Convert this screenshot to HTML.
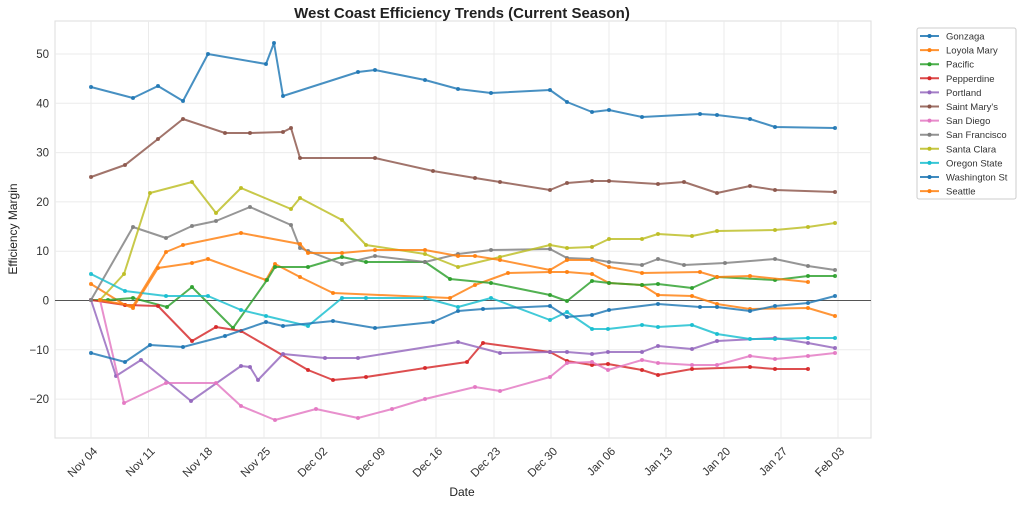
<!DOCTYPE html><html><head><meta charset="utf-8"><style>body{margin:0;background:#fff}svg{display:block;font-family:"Liberation Sans",sans-serif}</style></head><body>
<svg id="s" width="1024" height="506" viewBox="0 0 1024 506">
<rect x="0" y="0" width="1024" height="506" fill="#fff"/>
<rect x="55" y="21" width="816" height="417" fill="#fff" stroke="#ddd" stroke-width="1"/>
<g id="grid" stroke="#ebebeb" stroke-width="1"></g>
<line x1="55" y1="300.5" x2="871" y2="300.5" stroke="#555" stroke-width="1"/>
<g id="ser" fill="none" stroke-width="2" stroke-linejoin="round"></g>
<g id="lab" font-size="11.5" fill="#333"></g>
<text x="462" y="18" font-size="15" font-weight="bold" text-anchor="middle" fill="#222">West Coast Efficiency Trends (Current Season)</text>
<text x="462" y="496" font-size="12" text-anchor="middle" fill="#222">Date</text>
<text transform="translate(17,229) rotate(-90)" font-size="12" text-anchor="middle" fill="#222">Efficiency Margin</text>
<rect x="917" y="28" width="99" height="171" fill="#fff" stroke="#ccc" rx="2"/>
<g id="leg" font-size="9.5" fill="#333"></g>
</svg>
<script>
var NS="http://www.w3.org/2000/svg";function el(p,t,a,tx){var e=document.createElementNS(NS,t);for(var k in a)e.setAttribute(k,a[k]);if(tx)e.textContent=tx;document.getElementById(p).appendChild(e);return e;}
var xt=[91,148.5,206,264,321,379,436,494,551,609,666,724,781,838],xl=["Nov 04","Nov 11","Nov 18","Nov 25","Dec 02","Dec 09","Dec 16","Dec 23","Dec 30","Jan 06","Jan 13","Jan 20","Jan 27","Feb 03"];
xt.forEach(function(x,i){el("grid","line",{x1:x,y1:21,x2:x,y2:438});el("lab","text",{transform:"translate("+(x+7)+",452) rotate(-45)","text-anchor":"end"},xl[i]);});
[50,40,30,20,10,0,-10,-20].forEach(function(v){var y=300.5-4.93*v;el("grid","line",{x1:55,y1:y,x2:871,y2:y});el("lab","text",{x:49,y:y+4,"text-anchor":"end"},v==0?"0":(v<0?"\u2212"+(-v):v));});
var S=[
["Gonzaga","#1f77b4","91,87 133,98 158,86 183,101 208,54 266,64 274,43 283,96 358,72 375,70 425,80 458,89 491,93 550,90 567,102 592,112 609,110 642,117 700,114 717,115 750,119 775,127 835,128"],
["Loyola Mary","#ff7f0e","91,284 125,305 133,308 158,268 192,263 208,259 266,280 275,264 300,277 333,293 450,298 475,285 508,273 550,272 567,272 592,274 609,283 642,285 658,295 692,296 717,304 750,309 808,308 835,316"],
["Pacific","#2ca02c","91,300 108,300 133,298 167,307 192,287 233,328 267,280 275,267 308,267 342,257 366,262 425,262 450,279 491,283 550,295 567,301 592,281 609,283 642,285 658,284 692,288 717,277 775,280 808,276 835,276"],
["Pepperdine","#d62728","91,300 125,305 158,306 192,341 216,327 241,331 308,370 333,380 366,377 425,368 467,362 483,343 550,352 567,361 592,365 608,364 642,370 658,375 692,369 750,367 775,369 808,369"],
["Portland","#9467bd","91,300 116,376 141,360 191,401 241,366 250,367 258,380 283,354 325,358 358,358 458,342 500,353 550,352 567,352 592,354 608,352 642,352 658,346 692,349 717,341 775,338 808,343 835,348"],
["Saint Mary's","#8c564b","91,177 125,165 158,139 183,119 225,133 250,133 283,132 291,128 300,158 375,158 433,171 475,178 500,182 550,190 567,183 592,181 609,181 658,184 684,182 717,193 750,186 775,190 835,192"],
["San Diego","#e377c2","100,300 124,403 166,383 216,383 241,406 275,420 316,409 358,418 392,409 425,399 475,387 500,391 550,377 567,363 592,362 608,370 642,360 658,363 692,365 717,365 750,356 775,359 808,356 835,353"],
["San Francisco","#7f7f7f","91,300 133,227 166,238 192,226 216,221 250,207 291,225 300,248 308,251 342,264 375,256 425,262 458,254 491,250 550,249 567,258 592,259 609,262 642,265 658,259 684,265 725,263 775,259 808,266 835,270"],
["Santa Clara","#bcbd22","100,300 124,274 150,193 192,182 216,213 241,188 291,209 300,198 342,220 366,245 425,254 458,267 500,257 550,245 567,248 592,247 609,239 642,239 658,234 692,236 717,231 775,230 808,227 835,223"],
["Oregon State","#17becf","91,274 125,291 166,296 208,296 241,310 266,316 308,326 342,298 366,298 425,298 458,307 491,298 550,320 567,312 592,329 608,329 642,325 658,327 692,325 717,334 750,339 775,339 808,338 835,338"],
["Washington St","#1f77b4","91,353 125,362 150,345 183,347 225,336 266,322 283,326 333,321 375,328 433,322 458,311 483,309 550,306 567,317 592,315 609,310 658,304 700,307 717,307 750,311 775,306 808,303 835,296"],
["Seattle","#ff7f0e","100,300 133,306 166,252 183,245 241,233 300,244 308,253 342,253 375,250 425,250 458,256 475,256 500,260 550,270 567,260 592,260 609,267 642,273 700,272 717,277 750,276 808,282"]];
S.forEach(function(s,i){el("ser","polyline",{points:s[2],stroke:s[1],opacity:0.82});s[2].split(" ").forEach(function(p){var c=p.split(",");el("ser","circle",{cx:c[0],cy:c[1],r:2,fill:s[1],stroke:"none",opacity:0.9});});
var y=36+i*14.1;el("leg","line",{x1:920,y1:y,x2:939,y2:y,stroke:s[1],"stroke-width":2,opacity:0.85});el("leg","circle",{cx:929.5,cy:y,r:2,fill:s[1]});el("leg","text",{x:946,y:y+3.5},s[0]);});
</script>
</body></html>
